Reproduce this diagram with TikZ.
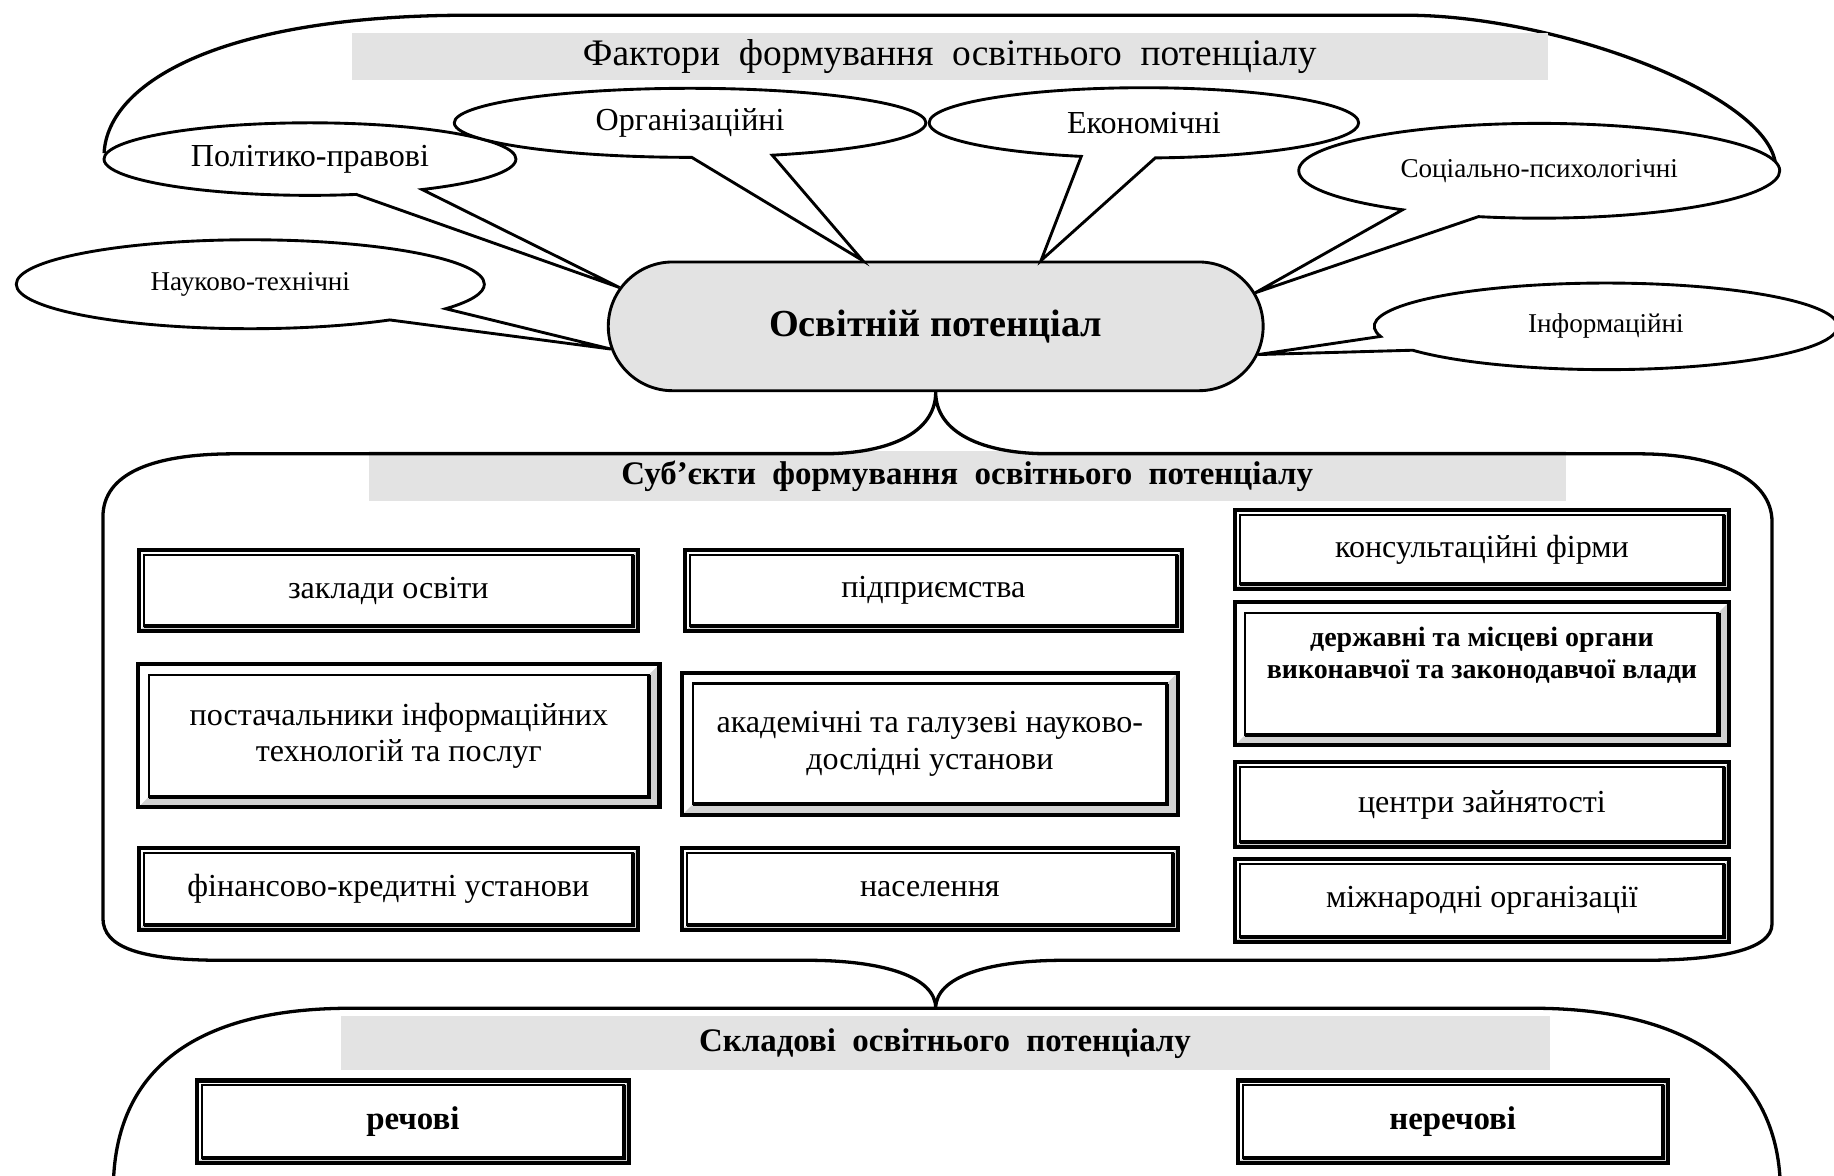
\documentclass[tikz,border=0pt]{standalone}
\usepackage{fontspec}
\setmainfont{Liberation Serif}
\usepackage{tikz}
\usetikzlibrary{shapes.callouts,shapes.misc}

\begin{document}
\begin{tikzpicture}[x=0.01cm,y=-0.01cm,line width=0.7pt,
  bubble/.style={ellipse callout,draw,fill=white,inner sep=0pt,
    callout pointer arc=20,font=\fontsize{7.8}{9}\selectfont},
  small bubble/.style={bubble,font=\fontsize{6.6}{8}\selectfont},
  band/.style={fill=gray!22,inner sep=0pt},
  box/.style={inner sep=2pt,align=center,font=\fontsize{7.8}{8.8}\selectfont},
  bold box/.style={box,font=\bfseries\fontsize{8}{9}\selectfont},
  bevel/.style={fill=gray!35,draw=none},
  frame/.style={line width=0.8pt}]

\useasboundingbox (0,0) rectangle (1568,1005);

% factors
\draw[frame] (89,131) .. controls (92,70) and (190,13) .. (401,13) -- (1202,13)
  .. controls (1330,13) and (1510,80) .. (1518,140);
\node[band,minimum width=10.22cm,minimum height=0.4cm,font=\fontsize{9.1}{11}\selectfont]
  (ftitle) at (812,48) {Фактори\ \ формування\ \ освітнього\ \ потенціалу};

\node[rounded rectangle,draw,fill=gray!22,minimum width=5.83cm,minimum height=1.1cm,
  font=\bfseries\fontsize{9.3}{11}\selectfont] (pot) at (800,279) {Освітній потенціал};

\node[bubble,minimum width=3.52cm,minimum height=0.62cm,callout absolute pointer={(pot.173)}]
  (polit) at (265,136) {Політико-правові};
\node[bubble,minimum width=4.03cm,minimum height=0.59cm,callout absolute pointer={(pot.138)}]
  (org) at (590,105) {Організаційні};
\node[bubble,minimum width=3.67cm,minimum height=0.6cm,callout absolute pointer={(pot.32)}]
  (econ) at (978,105) {Економічні};
\node[small bubble,minimum width=4.11cm,minimum height=0.81cm,callout absolute pointer={(pot.6)}]
  (soc) at (1316,146) {Соціально-психологічні};
\node[small bubble,minimum width=4cm,minimum height=0.76cm,callout absolute pointer={(pot.184)}]
  (nauk) at (214,243) {Науково-технічні};
\node[small bubble,minimum width=3.96cm,minimum height=0.74cm,callout absolute pointer={(pot.355)}]
  (inf) at (1373,279) {Інформаційні};

% subjects
\coordinate (peak) at (800,862);
\node[band,minimum width=10.23cm,minimum height=0.42cm,font=\bfseries\fontsize{8}{10}\selectfont]
  (stitle) at (827,407) {Суб’єкти\ \ формування\ \ освітнього\ \ потенціалу};
\draw[frame] (pot.south) .. controls (800,370) and (840,388) .. (897,388) -- (1401,388)
  .. controls (1470,388) and (1515,410) .. (1515,446) -- (1515,790)
  .. controls (1515,812) and (1470,821) .. (1405,821) -- (910,821)
  .. controls (845,821) and (800,835) .. (peak)
  .. controls (800,835) and (755,821) .. (690,821) -- (190,821)
  .. controls (120,821) and (88,810) .. (88,785) -- (88,442)
  .. controls (88,405) and (130,388) .. (200,388) -- (703,388)
  .. controls (760,388) and (800,370) .. (pot.south);

\node[box,minimum width=4.24cm,minimum height=0.67cm] (zakl) at (332,505) {заклади освіти};
\node[box,minimum width=4.43cm,minimum height=1.2cm] (post) at (341,629)
  {постачальники інформаційних\\технологій та послуг};
\node[box,minimum width=4.24cm,minimum height=0.67cm] (fin) at (332,760) {фінансово-кредитні установи};
\node[box,minimum width=4.22cm,minimum height=0.67cm] (pidpr) at (798,505) {підприємства};
\node[box,minimum width=4.21cm,minimum height=1.19cm] (akad) at (795,636)
  {академічні та галузеві науково-\\дослідні установи};
\node[box,minimum width=4.21cm,minimum height=0.67cm] (nasel) at (795,760) {населення};
\node[box,minimum width=4.2cm,minimum height=0.65cm] (kons) at (1267,470) {консультаційні фірми};
\node[box,minimum width=4.2cm,minimum height=1.2cm,text depth=10pt,
  font=\bfseries\fontsize{6.8}{7.8}\selectfont] (derzh) at (1267,576)
  {державні та місцеві органи\\виконавчої та законодавчої влади};
\node[box,minimum width=4.2cm,minimum height=0.7cm] (zain) at (1267,688) {центри зайнятості};
\node[box,minimum width=4.2cm,minimum height=0.68cm] (mizhn) at (1267,770) {міжнародні організації};

% components
\node[band,minimum width=10.33cm,minimum height=0.46cm,font=\bfseries\fontsize{8}{10}\selectfont]
  (ctitle) at (808,892) {Складові\ \ освітнього\ \ потенціалу};
\draw[frame] (97,1010) .. controls (100,920) and (160,862) .. (300,862) -- (peak) -- (1310,862)
  .. controls (1450,862) and (1518,920) .. (1522,1010);
\node[bold box,minimum width=3.67cm,minimum height=0.68cm] (rech) at (353,959) {речові};
\node[bold box,minimum width=3.65cm,minimum height=0.68cm] (nerech) at (1242,959) {неречові};

% bevelled frames of the boxes
\foreach \b/\g in {zakl/1.2pt,pidpr/1.2pt,fin/1.2pt,nasel/1.2pt,kons/1.2pt,zain/1.2pt,
    mizhn/1.2pt,post/2.6pt,akad/2.6pt,derzh/2.6pt,rech/1.2pt,nerech/1.2pt}{
  \fill[bevel] (\b.south west) -- (\b.south east) -- ([shift={(-\g,\g)}]\b.south east)
    -- ([shift={(\g,\g)}]\b.south west) -- cycle;
  \fill[bevel] (\b.south east) -- (\b.north east) -- ([shift={(-\g,-\g)}]\b.north east)
    -- ([shift={(-\g,\g)}]\b.south east) -- cycle;
  \draw[line width=0.5pt] ([shift={(\g,\g)}]\b.south west) rectangle ([shift={(-\g,-\g)}]\b.north east);
  \draw[line width=1pt] ([shift={(\g,\g)}]\b.south west) -- ([shift={(-\g,\g)}]\b.south east)
    -- ([shift={(-\g,-\g)}]\b.north east);
  \draw[line width=1pt] (\b.south west) rectangle (\b.north east);
}
\end{tikzpicture}
\end{document}
